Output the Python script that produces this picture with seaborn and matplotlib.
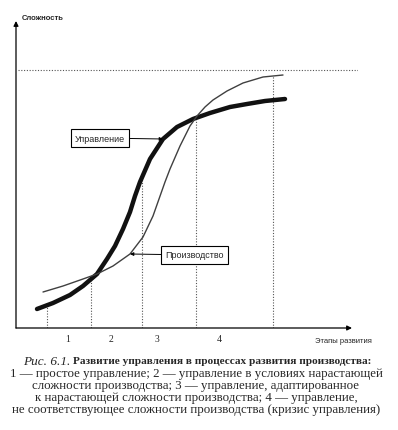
import numpy as np
import pandas as pd
import seaborn as sns
import matplotlib.pyplot as plt

# ---------------------------------------------------------
# Data (x = development stage axis, y = complexity)
# ---------------------------------------------------------
upr_x = [2.1, 3.7, 5.4, 6.7, 8.1, 9.1, 9.9, 10.7, 11.4, 11.9, 12.4, 13.4, 14.7,
         16.1, 17.7, 19.4, 21.4, 23.1, 24.9, 26.9]
upr_y = [1.9, 2.5, 3.3, 4.2, 5.4, 6.9, 8.2, 9.9, 11.6, 13.2, 14.6, 16.9, 18.9,
         20.1, 20.9, 21.5, 22.1, 22.4, 22.7, 22.9]

prod_x = [2.7, 4.7, 6.7, 8.1, 9.7, 11.4, 12.7, 13.7, 14.3, 14.9, 15.4, 16.4, 17.4,
          18.1, 18.9, 19.7, 21.1, 22.7, 24.7, 26.7]
prod_y = [3.6, 4.2, 4.9, 5.4, 6.2, 7.4, 9.1, 11.2, 12.9, 14.6, 15.9, 18.2, 20.2,
          21.2, 22.1, 22.8, 23.7, 24.5, 25.1, 25.3]

# stage boundaries and how high each dotted guide goes
bound_x = [3.1, 7.5, 12.6, 18.0, 25.7]
bound_top = [2.2, 5.2, 15.0, 20.9, 25.2]
limit_y = 25.8

stage_labels = ["1", "2", "3", "4"]
stage_pos = [5.2, 9.5, 14.1, 20.3]

caption_head = "Рис. 6.1."
caption_title = "Развитие управления в процессах развития производства:"
caption_lines = [
    "1 — простое управление; 2 — управление в условиях нарастающей",
    "сложности производства; 3 — управление, адаптированное",
    "к нарастающей сложности производства; 4 — управление,",
    "не соответствующее сложности производства (кризис управления)",
]

curves = pd.concat([
    pd.DataFrame({"x": upr_x, "y": upr_y, "series": "Управление"}),
    pd.DataFrame({"x": prod_x, "y": prod_y, "series": "Производство"}),
])

# ---------------------------------------------------------
# Plot
# ---------------------------------------------------------
sns.set_theme(style="white")
plt.rcParams["font.family"] = ["Liberation Sans", "DejaVu Sans"]

W, H = 398, 431
fig = plt.figure(figsize=(W / 100, H / 100), dpi=100)
ax = fig.add_axes([16 / W, 102 / H, 342 / W, 307 / H])
ax.set_xlim(0, 34.2)
ax.set_ylim(0, 30.7)
ax.axis("off")

sns.lineplot(data=curves, x="x", y="y", hue="series", size="series",
             palette={"Управление": "#111111", "Производство": "#404040"},
             sizes={"Управление": 3.2, "Производство": 1.0},
             estimator=None, legend=False, ax=ax,
             solid_capstyle="round", solid_joinstyle="round", zorder=3)

# dotted guides
ax.vlines(bound_x, 0, bound_top, colors="#555555", linewidth=0.8,
          linestyles=(0, (1, 1.5)), zorder=1)
ax.hlines(limit_y, 0.2, 34.2, colors="#555555", linewidth=0.8,
          linestyles=(0, (1, 1.5)), zorder=1)

# axes with arrows
arrow = dict(arrowstyle="-|>", color="black", lw=0.9, mutation_scale=7,
             shrinkA=0, shrinkB=0)
ax.annotate("", xy=(33.6, 0), xytext=(0, 0), arrowprops=arrow, annotation_clip=False)
ax.annotate("", xy=(0, 30.7), xytext=(0, 0), arrowprops=arrow, annotation_clip=False)

ax.text(0.6, 31.1, "Сложность", fontsize=5.5, fontweight="bold", ha="left",
        va="center", clip_on=False)
ax.text(35.6, -1.3, "Этапы развития", fontsize=5.5, ha="right", va="center",
        clip_on=False)

for lab, xp in zip(stage_labels, stage_pos):
    ax.text(xp, -1.1, lab, fontsize=7, family=["Liberation Serif"],
            ha="center", va="center", clip_on=False)

# labelled callouts
box = dict(boxstyle="square,pad=0.45", fc="white", ec="black", lw=0.8)
small_arrow = dict(arrowstyle="-|>", color="black", lw=0.7, mutation_scale=5,
                   shrinkA=0, shrinkB=0)
ax.annotate("Управление", xy=(14.7, 18.9), xytext=(8.4, 19.0), fontsize=6.5,
            ha="center", va="center", bbox=box, arrowprops=small_arrow, zorder=4)
ax.annotate("Производство", xy=(11.4, 7.4), xytext=(17.85, 7.3), fontsize=6.5,
            ha="center", va="center", bbox=box, arrowprops=small_arrow, zorder=4)

# caption
serif = ["Liberation Serif", "DejaVu Serif"]
fig.text(70 / W, 1 - 362 / H, caption_head, fontsize=9.5, style="italic",
         family=serif, ha="right", va="center")
fig.text(73 / W, 1 - 362 / H, caption_title, fontsize=8.1, fontweight="bold",
         family=serif, ha="left", va="center")
for i, line in enumerate(caption_lines):
    fig.text(196 / W, 1 - (374 + 12 * i) / H, line, fontsize=9.25,
             family=serif, ha="center", va="center")

fig.savefig("out.png", dpi=100)
